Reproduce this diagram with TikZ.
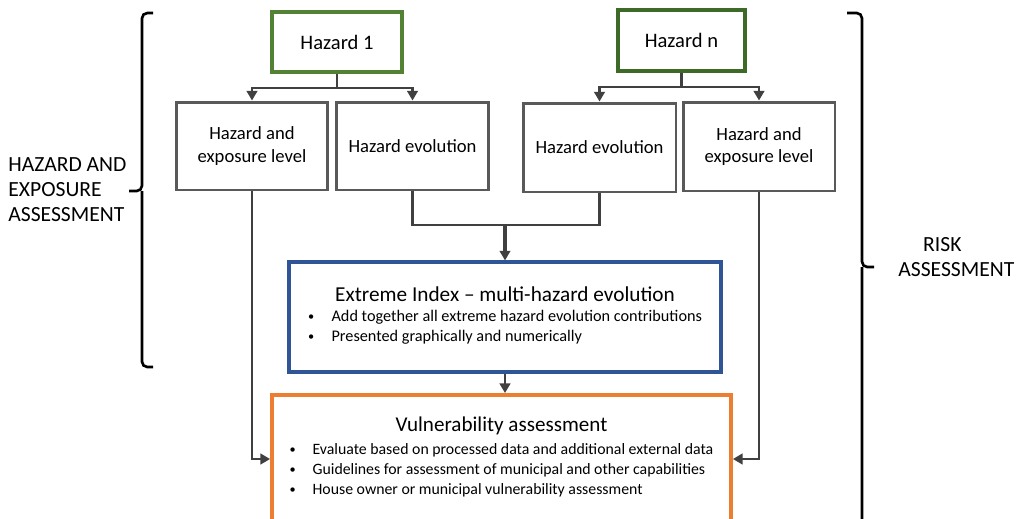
\documentclass[tikz,border=0pt]{standalone}
\usepackage{fontspec}
\setmainfont{Carlito}
\usetikzlibrary{positioning, arrows.meta}
\definecolor{hazgreen}{HTML}{548235}
\definecolor{hazdark}{HTML}{3E6A27}
\definecolor{boxgray}{HTML}{595959}
\definecolor{arrowgray}{HTML}{404040}
\definecolor{extblue}{HTML}{2F5597}
\definecolor{vulorange}{HTML}{ED7D31}
\newcommand{\bul}{\makebox[1.45em][l]{\raisebox{0.1ex}{\scriptsize\textbullet}}}
\tikzset{
    box/.style={draw=boxgray, line width=1.7pt, minimum width=3.04cm, minimum height=1.76cm,
        align=center, font=\fontsize{10.6}{13}\selectfont},
    hazbox/.style={line width=1.8pt, minimum width=2.6cm, minimum height=1.2cm,
        font=\fontsize{11.7}{14}\selectfont},
    bigbox/.style={line width=1.8pt, align=center, font=\fontsize{9}{11.4}\selectfont},
    line/.style={draw=arrowgray, line width=1.6pt},
    arr/.style={line, -{Triangle[length=5.5pt, width=6pt]}},
    side/.style={inner sep=0pt, align=left, font=\fontsize{12.3}{14.2}\selectfont},
}

\begin{document}
\begin{tikzpicture}[x=0.02cm, y=-0.02cm]
    \useasboundingbox (0,0) rectangle (1017,518);
    \clip (0,0) rectangle (1017,518);

    % hazards
    \node[hazbox, draw=hazgreen] (haz1) at (337,42) {Hazard 1};
    \node[hazbox, draw=hazdark, minimum width=2.54cm, minimum height=1.22cm] (hazn) at (681.5,40.5) {Hazard n};

    \node[box] (exp1) at (252,146) {Hazard and\\exposure level};
    \node[box, minimum width=3.06cm] (evol1) at (412.5,146) {Hazard evolution};
    \node[box, minimum width=3.06cm, minimum height=1.78cm] (evoln) at (599.5,147.5) {Hazard evolution};
    \node[box, minimum height=1.78cm] (expn) at (759,146.5) {Hazard and\\exposure level};

    \node[bigbox, draw=extblue, minimum width=8.64cm, minimum height=2.2cm] (ext) at (505,317)
        {{\fontsize{12.1}{14}\selectfont Extreme Index -- multi-hazard evolution}\\[2pt]
         {\fontsize{9.25}{11.4}\selectfont
         \begin{tabular}{@{}l@{}}
         \bul Add together all extreme hazard evolution contributions\\
         \bul Presented graphically and numerically
         \end{tabular}}};
    \node[bigbox, draw=vulorange, line width=2.2pt, minimum width=9.18cm, minimum height=2.56cm] (vul) at (501.5,459)
        {{\fontsize{12}{14}\selectfont Vulnerability assessment}\\[2pt]
         \begin{tabular}{@{}l@{}}
         \bul Evaluate based on processed data and additional external data\\
         \bul Guidelines for assessment of municipal and other capabilities\\
         \bul House owner or municipal vulnerability assessment
         \end{tabular}};

    \coordinate (split1) at (337,88);
    \coordinate (splitn) at (681.5,87);
    \coordinate (merge) at (505,225);

    \draw[line] (haz1) -- (split1);
    \draw[arr] (split1) -| (exp1);
    \draw[arr] (split1) -| (evol1);
    \draw[line] (hazn) -- (splitn);
    \draw[arr] (splitn) -| (evoln);
    \draw[arr] (splitn) -| (expn);

    \draw[line] (evol1) |- (merge);
    \draw[line] (evoln) |- (merge);
    \draw[arr, line width=2pt] (merge) -- (ext);
    \draw[arr] (ext.south) -- (ext.south |- vul.north);
    \draw[arr] (exp1) |- (vul);
    \draw[arr] (expn) |- (vul);

    % braces
    \draw[line width=1.5pt, rounded corners=3pt] (153,13) -| (142,191) -- (129,191);
    \draw[line width=1.5pt, rounded corners=3pt] (142,191) |- (153,367);
    \draw[line width=1.5pt, rounded corners=3pt] (847,13) -| (862,267) -- (874,267);
    \draw[line width=1.5pt, rounded corners=3pt] (862,267) |- (847,560);

    \node[side, anchor=west] (hazlabel) at (8,190) {HAZARD AND\\EXPOSURE\\ASSESSMENT};
    \node[side, anchor=west] (risklabel) at (898,257) {\hspace*{1.15em}RISK\\ASSESSMENT};
\end{tikzpicture}
\end{document}
